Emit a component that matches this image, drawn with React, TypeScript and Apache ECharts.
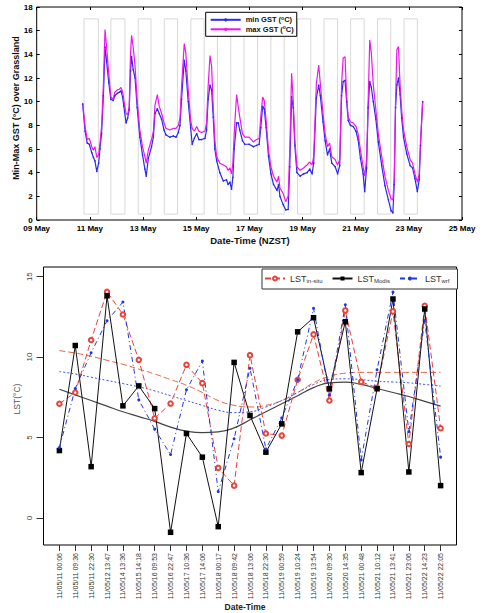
import React, { useEffect, useRef } from "react";
import * as echarts from "echarts";

// ---------- Top panel: ground surface temperature (days of May) ----------
const gstDay = [
  10.73, 10.82, 10.9, 10.98, 11.07, 11.13, 11.19, 11.26, 11.33, 11.38, 11.44, 11.51, 11.57, 11.63, 11.71, 11.79, 11.88, 11.94,
  12.03, 12.11, 12.17, 12.23, 12.28, 12.36, 12.42, 12.48, 12.53, 12.57, 12.63, 12.7, 12.78, 12.88, 12.98,
  13.07, 13.12, 13.2, 13.32, 13.39, 13.45, 13.54, 13.61, 13.7, 13.79, 13.86,
  14.01, 14.14, 14.24, 14.33, 14.39, 14.45, 14.55, 14.61, 14.7, 14.79, 14.85, 14.93,
  15.02, 15.1, 15.2, 15.33, 15.39, 15.45, 15.52, 15.58, 15.64, 15.7, 15.77, 15.89,
  16.02, 16.14, 16.2, 16.27, 16.33, 16.38, 16.43, 16.52, 16.58, 16.64, 16.74, 16.83, 16.99,
  17.15, 17.27, 17.37, 17.43, 17.5, 17.56, 17.63, 17.72, 17.81, 17.91,
  18.04, 18.1, 18.15, 18.27, 18.37, 18.46, 18.52, 18.59, 18.65, 18.71, 18.79, 18.91,
  19.04, 19.17, 19.27, 19.36, 19.42, 19.52, 19.61, 19.67, 19.77, 19.85, 19.94,
  20.02, 20.1, 20.23, 20.32, 20.4, 20.47, 20.53, 20.6, 20.66, 20.72, 20.8, 20.91,
  21.01, 21.09, 21.18, 21.28, 21.34, 21.41, 21.47, 21.53, 21.59, 21.66, 21.76, 21.85, 21.98,
  22.1, 22.23, 22.33, 22.4, 22.45, 22.5, 22.55, 22.61, 22.67, 22.73, 22.8, 22.92,
  23.05, 23.14, 23.23, 23.32, 23.39, 23.44, 23.52,
];
const gstMax = [
  9.9, 7.9, 6.8, 6.9, 6.2, 5.9, 6.2, 5.3, 5.5, 6.5, 7.9, 11.5, 16.1, 14.6, 12.4, 10.4, 10.2, 10.8,
  11.0, 11.05, 11.2, 10.85, 10.1, 9.0, 8.9, 9.6, 14.1, 15.6, 14.6, 13.0, 10.1, 7.6, 6.2,
  5.35, 4.8, 5.9, 6.8, 7.5, 9.7, 10.6, 9.6, 9.0, 8.2, 7.75,
  7.6, 7.75, 7.75, 8.0, 8.6, 11.3, 14.9, 14.1, 11.0, 8.45, 7.75, 7.5,
  7.9, 7.5, 7.4, 7.5, 8.2, 11.3, 13.9, 13.0, 9.6, 6.8, 5.35, 4.8,
  4.65, 4.5, 4.2, 4.4, 3.9, 4.8, 7.3, 10.6, 9.6, 8.7, 7.3, 7.0, 7.0,
  6.6, 6.8, 6.9, 8.7, 10.4, 10.1, 8.45, 5.9, 4.5, 3.7,
  3.2, 3.7, 2.7, 2.25, 1.55, 2.0, 5.9, 12.4, 10.1, 6.8, 4.5, 4.2,
  4.4, 4.65, 4.9, 4.65, 5.35, 11.5, 13.1, 11.5, 9.0, 7.3, 6.2,
  6.5, 5.35, 5.1, 4.65, 5.1, 11.5, 13.7, 13.8, 10.4, 8.7, 8.3, 8.2,
  7.9, 7.3, 5.9, 4.5, 3.7, 5.1, 10.1, 15.2, 14.1, 11.5, 9.3, 7.3, 5.35,
  3.7, 2.5, 1.8, 1.7, 3.5, 10.1, 14.4, 14.65, 11.5, 9.3, 7.6, 6.2,
  5.1, 4.8, 3.9, 3.2, 3.9, 6.8, 10.0,
];
const gstMin = [
  9.8, 7.5, 6.5, 6.4, 5.7, 5.3, 5.0, 4.1, 4.8, 6.0, 7.3, 10.5, 14.6, 13.4, 11.6, 10.2, 10.1, 10.5,
  10.7, 10.8, 10.9, 10.4, 9.6, 8.2, 8.6, 9.3, 12.6, 13.8, 12.7, 12.0, 9.5, 7.0, 5.5,
  4.3, 3.7, 5.2, 6.2, 7.0, 9.0, 9.4, 9.0, 8.5, 7.6, 7.2,
  7.0, 7.1, 7.0, 7.4, 8.0, 10.2, 13.5, 12.6, 10.0, 7.8, 6.4, 6.9,
  7.3, 6.8, 6.8, 6.9, 7.6, 10.2, 11.4, 11.0, 8.7, 6.0, 5.0, 4.0,
  3.3, 3.4, 3.0, 3.2, 2.6, 3.6, 6.0, 8.2, 8.2, 7.6, 6.7, 6.4, 6.4,
  6.2, 6.3, 6.4, 7.8, 9.6, 9.4, 7.8, 5.4, 3.9, 3.0,
  2.5, 3.0, 2.0, 1.3, 0.85, 0.9, 4.5, 10.4, 9.5, 6.3, 4.0, 3.7,
  3.9, 4.0, 4.3, 3.9, 4.8, 10.3, 11.4, 10.5, 8.3, 6.7, 5.5,
  6.0, 4.8, 4.5, 3.9, 4.6, 10.5, 11.7, 11.8, 10.0, 8.4, 8.0, 7.9,
  7.5, 6.8, 5.2, 3.9, 2.4, 4.4, 9.5, 11.7, 11.2, 10.0, 8.5, 6.6, 4.6,
  2.9, 1.7, 0.8, 0.6, 3.0, 9.5, 11.4, 12.0, 10.6, 8.6, 7.0, 5.6,
  4.6, 4.4, 3.5, 2.4, 3.4, 6.3, 10.0,
];
const nightStart = [10.78, 11.79, 12.82, 13.8, 14.8, 15.8, 16.8, 17.81, 18.81, 19.81, 20.81, 21.82, 22.82];
const nightEnd = [11.32, 12.32, 13.3, 14.3, 15.3, 16.3, 17.31, 18.31, 19.31, 20.32, 21.32, 22.32, 23.32];
const nightLow = 0.5;
const nightHigh = 17;
const topXTicks = [9, 11, 13, 15, 17, 19, 21, 23, 25];

// ---------- Bottom panel: LST ----------
const lstLabels = [
  "11/05/11 00:06", "11/05/11 09:36", "11/05/11 22:30", "11/05/12 13:47", "11/05/14 13:36",
  "11/05/15 14:18", "11/05/16 09:53", "11/05/16 22:47", "11/05/17 10:36", "11/05/17 14:06",
  "11/05/18 00:17", "11/05/18 09:42", "11/05/18 13:06", "11/05/18 22:30", "11/05/19 00:59",
  "11/05/19 10:24", "11/05/19 13:54", "11/05/20 09:30", "11/05/20 14:35", "11/05/21 00:48",
  "11/05/21 10:12", "11/05/21 13:41", "11/05/21 23:06", "11/05/22 14:23", "11/05/22 22:05",
];
const lstInSitu = [7.1, 7.8, 11.06, 14.06, 12.65, 9.83, 6.2, 7.11, 9.52, 8.38, 3.11, 2.01, 10.12, 5.25, 5.12, 8.59, 11.41, 7.3, 12.9, 8.46, 8.1, 12.84, 4.6, 13.19, 5.58];
const lstModis = [4.19, 10.72, 3.19, 13.81, 6.97, 8.21, 6.8, -0.89, 5.25, 3.78, -0.54, 9.67, 6.37, 4.09, 5.85, 11.57, 12.45, 8.03, 12.2, 2.82, 8.03, 13.61, 2.86, 12.99, 2.01];
const lstWrf = [4.38, 8.05, 10.27, 12.26, 13.42, 7.34, 5.52, 3.94, 7.97, 9.75, 1.64, 4.92, 9.31, 4.29, 6.22, 8.59, 13.03, 7.65, 13.25, 3.61, 9.21, 14.04, 5.37, 12.28, 3.78];
const trendInSitu = [10.4, 10.25, 10.05, 9.8, 9.55, 9.25, 8.95, 8.6, 8.25, 7.8, 7.3, 7.0, 6.9, 7.0, 7.3, 7.8, 8.4, 8.8, 9.0, 9.05, 9.05, 9.05, 9.05, 9.05, 9.05];
const trendModis = [8.0, 7.65, 7.3, 6.95, 6.6, 6.3, 6.0, 5.65, 5.4, 5.3, 5.35, 5.6, 6.1, 6.6, 7.1, 7.6, 8.1, 8.4, 8.45, 8.3, 8.05, 7.8, 7.55, 7.25, 6.95];
const trendWrf = [9.1, 8.95, 8.75, 8.55, 8.35, 8.15, 7.9, 7.6, 7.3, 7.0, 6.7, 6.55, 6.6, 6.9, 7.3, 7.8, 8.3, 8.6, 8.65, 8.6, 8.5, 8.45, 8.4, 8.3, 8.2];
const lstYTicks = [0, 5, 10, 15];

const FONT = "'Liberation Sans', Arial, sans-serif";

export default function App() {
  const ref = useRef<HTMLDivElement>(null);
  useEffect(() => {
    if (!ref.current) return;
    const chart = echarts.init(ref.current, undefined, { renderer: "svg" });
    const idx = lstLabels.map((_, i) => i);
    const pair = (arr: number[]) => arr.map((v, i) => [i, v]);
    const topPair = (arr: number[]) => gstDay.map((d, i) => [d, arr[i]]);
    const nightAreas = nightStart.map((s, i) => [
      { xAxis: s, yAxis: nightLow },
      { xAxis: nightEnd[i], yAxis: nightHigh },
    ]);

    const option: any = {
      animation: false,
      textStyle: { fontFamily: FONT },
      grid: [
        { left: 36.7, right: 23, top: 7, height: 213, show: true, borderColor: "#000", borderWidth: 1, containLabel: false },
        { left: 43.5, width: 413, top: 267, height: 278, show: true, borderColor: "#000", borderWidth: 1, containLabel: false },
      ],
      legend: [
        {
          left: 205.7, top: 12.3, orient: "vertical", itemGap: 1, itemWidth: 30, itemHeight: 4,
          padding: [3, 3, 3, 4], backgroundColor: "#fff", borderColor: "#000", borderWidth: 1,
          data: ["min GST", "max GST"],
          formatter: (n: string) => `${n} ({s|o}C)`,
          textStyle: { fontSize: 7.5, fontWeight: "bold", color: "#111", fontFamily: FONT,
            rich: { s: { fontSize: 5, fontWeight: "bold", color: "#111", fontFamily: FONT, padding: [0, 0, 4, 0] } } },
        },
        {
          left: 262, top: 269, orient: "horizontal", itemGap: 9, itemWidth: 20, itemHeight: 5,
          padding: [5, 8, 5, 2], backgroundColor: "#fff", borderColor: "#333", borderWidth: 1,
          data: ["in-situ", "Modis", "wrf"],
          formatter: (n: string) => `LST{b|${n}}`,
          textStyle: { fontSize: 9, color: "#333", fontFamily: FONT,
            rich: { b: { fontSize: 6, color: "#333", fontFamily: FONT, padding: [5, 0, 0, 0] } } },
        },
      ],
      xAxis: [
        {
          gridIndex: 0, type: "value", min: 9, max: 25, position: "bottom",
          axisLine: { show: false, onZero: false }, splitLine: { show: false },
          axisTick: { inside: true, length: 3, customValues: topXTicks, lineStyle: { color: "#000" } },
          axisLabel: { customValues: topXTicks, fontSize: 8, fontWeight: "bold", color: "#000", margin: 4,
            formatter: (v: number) => `${v < 10 ? "0" : ""}${v} May` },
        },
        {
          gridIndex: 0, type: "value", min: 9, max: 25, position: "top",
          axisLine: { show: false, onZero: false }, splitLine: { show: false },
          axisTick: { inside: true, length: 3, customValues: topXTicks, lineStyle: { color: "#000" } },
          axisLabel: { show: false },
        },
        {
          gridIndex: 1, type: "value", min: -1, max: 25, position: "bottom",
          axisLine: { show: false, onZero: false }, splitLine: { show: false },
          axisTick: { length: 6, customValues: idx, lineStyle: { color: "#333" } },
          axisLabel: { customValues: idx, rotate: 90, fontSize: 7, color: "#333", margin: 8,
            formatter: (v: number) => lstLabels[Math.round(v)] ?? "" },
        },
      ],
      yAxis: [
        {
          gridIndex: 0, type: "value", min: 0, max: 18, interval: 2,
          axisLine: { show: false, onZero: false }, splitLine: { show: false },
          axisTick: { inside: true, length: 3, lineStyle: { color: "#000" } },
          axisLabel: { fontSize: 8, fontWeight: "bold", color: "#000", margin: 4 },
        },
        {
          gridIndex: 0, type: "value", min: 0, max: 18, interval: 2, position: "right",
          axisLine: { show: false, onZero: false }, splitLine: { show: false },
          axisTick: { inside: true, length: 3, lineStyle: { color: "#000" } },
          axisLabel: { show: false },
        },
        {
          gridIndex: 1, type: "value", min: -1.68, max: 15.6,
          axisLine: { show: false, onZero: false }, splitLine: { show: false },
          axisTick: { length: 7, customValues: lstYTicks, lineStyle: { color: "#333" } },
          axisLabel: { customValues: lstYTicks, rotate: 90, fontSize: 8, color: "#444", margin: 10 },
        },
      ],
      graphic: [
        { type: "text", x: 16, y: 108, rotation: Math.PI / 2,
          style: { text: "Min-Max GST (°C) over Grassland", fontSize: 9, fontWeight: "bold", fill: "#111", fontFamily: FONT, align: "center", verticalAlign: "middle" } },
        { type: "text", x: 250, y: 240,
          style: { text: "Date-Time (NZST)", fontSize: 9.5, fontWeight: "bold", fill: "#111", fontFamily: FONT, align: "center", verticalAlign: "middle" } },
        { type: "text", x: 17, y: 399, rotation: Math.PI / 2,
          style: { text: "LST(°C)", fontSize: 8.5, fill: "#555", fontFamily: FONT, align: "center", verticalAlign: "middle" } },
        { type: "text", x: 245, y: 607,
          style: { text: "Date-Time", fontSize: 8.5, fontWeight: "bold", fill: "#222", fontFamily: FONT, align: "center", verticalAlign: "middle" } },
      ],
      series: [
        {
          name: "min GST", type: "line", xAxisIndex: 0, yAxisIndex: 0, data: topPair(gstMin),
          symbol: "circle", symbolSize: 1.5, lineStyle: { color: "#2a2af0", width: 1.2 }, itemStyle: { color: "#2a2af0" },
          markArea: {
            silent: true, label: { show: false },
            itemStyle: { color: "rgba(0,0,0,0)", borderColor: "#d8d8d8", borderWidth: 1 },
            data: nightAreas,
          },
        },
        {
          name: "max GST", type: "line", xAxisIndex: 0, yAxisIndex: 0, data: topPair(gstMax),
          symbol: "none", lineStyle: { color: "#f014f0", width: 1.2 }, itemStyle: { color: "#f014f0" },
        },
        {
          name: "trend in-situ", type: "line", xAxisIndex: 2, yAxisIndex: 2, data: pair(trendInSitu), smooth: true,
          symbol: "none", lineStyle: { color: "#e8603c", width: 1, type: [6, 3] },
        },
        {
          name: "trend wrf", type: "line", xAxisIndex: 2, yAxisIndex: 2, data: pair(trendWrf), smooth: true,
          symbol: "none", lineStyle: { color: "#3a55e0", width: 1, type: [2, 2] },
        },
        {
          name: "trend Modis", type: "line", xAxisIndex: 2, yAxisIndex: 2, data: pair(trendModis), smooth: true,
          symbol: "none", lineStyle: { color: "#444", width: 1.2 },
        },
        {
          name: "in-situ", type: "line", xAxisIndex: 2, yAxisIndex: 2, data: pair(lstInSitu),
          symbol: "emptyCircle", symbolSize: 4.5, lineStyle: { color: "#e8423a", width: 1, type: [6, 3] },
          itemStyle: { color: "#e8423a", borderWidth: 1 },
        },
        {
          name: "Modis", type: "line", xAxisIndex: 2, yAxisIndex: 2, data: pair(lstModis),
          symbol: "rect", symbolSize: 5.5, lineStyle: { color: "#111", width: 1 }, itemStyle: { color: "#000" },
        },
        {
          name: "wrf", type: "line", xAxisIndex: 2, yAxisIndex: 2, data: pair(lstWrf),
          symbol: "circle", symbolSize: 3, lineStyle: { color: "#2036e0", width: 1, type: [5, 3, 1, 3] },
          itemStyle: { color: "#2036e0" },
        },
      ],
    };
    chart.setOption(option);
    return () => chart.dispose();
  }, []);
  return <div ref={ref} style={{ position: "absolute", left: 0, top: 0, width: 485, height: 613, background: "#fff" }} />;
}
